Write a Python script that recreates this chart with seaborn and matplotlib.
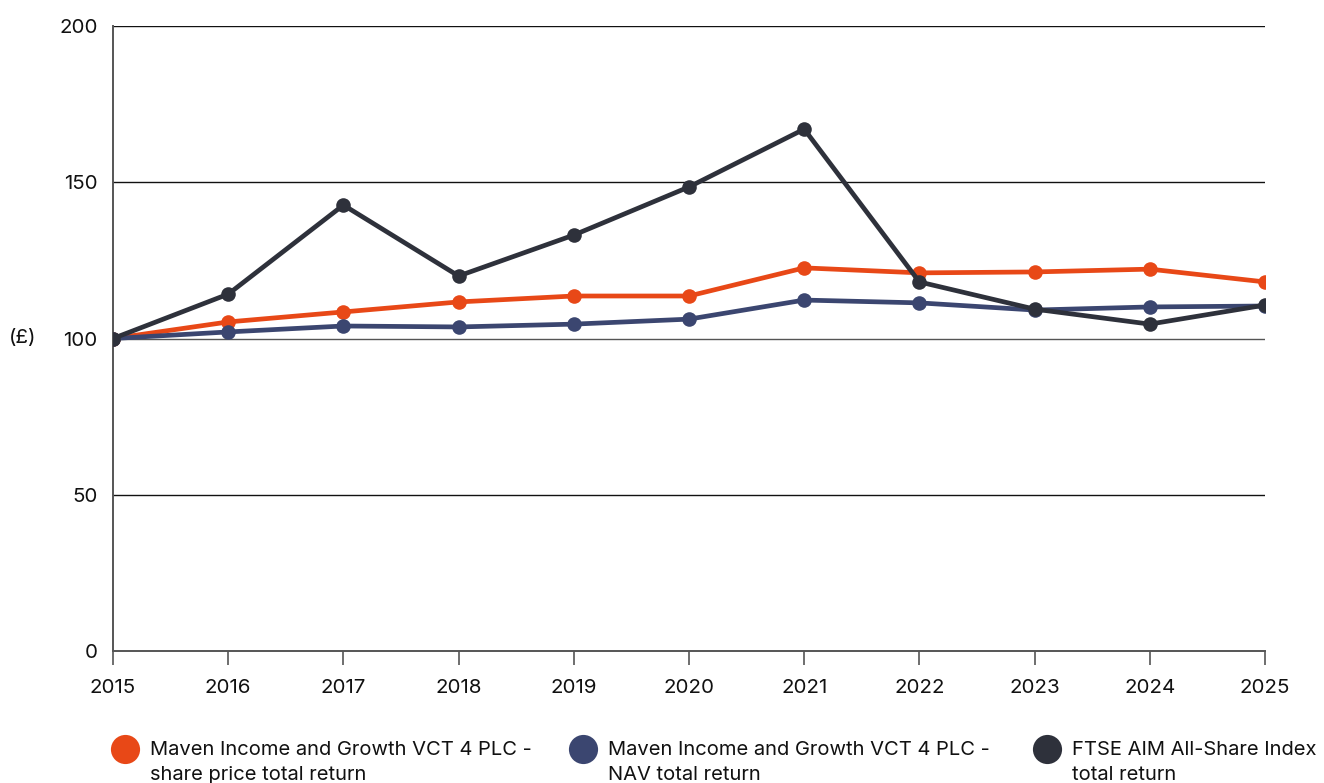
import pandas as pd
import matplotlib.pyplot as plt
import seaborn as sns
from matplotlib.lines import Line2D

# Values
years = [2015, 2016, 2017, 2018, 2019, 2020, 2021, 2022, 2023, 2024, 2025]
share_price = [100, 105.3, 108.5, 111.7, 113.6, 113.6, 122.6, 121.0, 121.3, 122.2, 118.1]
nav = [100, 102.1, 104.0, 103.7, 104.6, 106.2, 112.3, 111.4, 109.1, 110.1, 110.4]
ftse_aim = [100, 114.2, 142.7, 120.0, 133.1, 148.5, 167.0, 118.1, 109.4, 104.6, 110.7]

labels = [
    "Maven Income and Growth VCT 4 PLC -\nshare price total return",
    "Maven Income and Growth VCT 4 PLC -\nNAV total return",
    "FTSE AIM All-Share Index\ntotal return",
]
colors = ["#E84817", "#3B4670", "#2E313B"]
yticks = [0, 50, 100, 150, 200]

# Long format for seaborn
data = pd.concat([
    pd.DataFrame({"Year": years, "Value": vals, "Series": lab})
    for vals, lab in zip([share_price, nav, ftse_aim], labels)
])

sns.set_style("white")
plt.rcParams["font.family"] = ["Inter", "DejaVu Sans"]

fig = plt.figure(figsize=(13.24, 7.83), dpi=100)
ax = fig.add_axes([113 / 1324, 1 - 651 / 783, (1265 - 113) / 1324, (651 - 26) / 783])

# grid lines
for y in yticks[1:]:
    ax.axhline(y, color="#111111" if y != 100 else "#555555", lw=1.0, zorder=1)

sns.lineplot(data=data, x="Year", y="Value", hue="Series", palette=colors,
             marker="o", markersize=10.5, markeredgewidth=0, linewidth=3.4,
             legend=False, ax=ax, zorder=3)

ax.set_xlim(2015, 2025)
ax.set_ylim(0, 200)
ax.set_xticks(years)
ax.set_yticks(yticks)
ax.set_xlabel("")
ax.set_ylabel("")
ax.tick_params(axis="x", bottom=True, direction="out", length=10, width=1.2,
               color="#555555", pad=10, labelsize=14.8, labelcolor="#111111")
ax.tick_params(axis="y", left=False, length=0, pad=11, labelsize=14.8,
               labelcolor="#111111")
for side in ["top", "right"]:
    ax.spines[side].set_visible(False)
for side in ["left", "bottom"]:
    ax.spines[side].set_color("#555555")
    ax.spines[side].set_linewidth(1.4)

fig.text(23 / 1324, 1 - 338 / 783, "(£)", fontsize=14.8, color="#111111",
         ha="center", va="center")

# legend drawn by hand (wrapped; the second line runs off the bottom edge as in the original)
leg_x = [125, 583, 1047]
for x, lab, c in zip(leg_x, labels, colors):
    fig.add_artist(Line2D([x / 1324], [1 - 749 / 783], marker="o", markersize=21,
                          color=c, markeredgewidth=0, linestyle="none",
                          transform=fig.transFigure))
    fig.text((x + 25) / 1324, 1 - 741 / 783, lab, fontsize=14.5, color="#111111",
             ha="left", va="top", linespacing=1.5)

fig.savefig("out.png", dpi=100)
